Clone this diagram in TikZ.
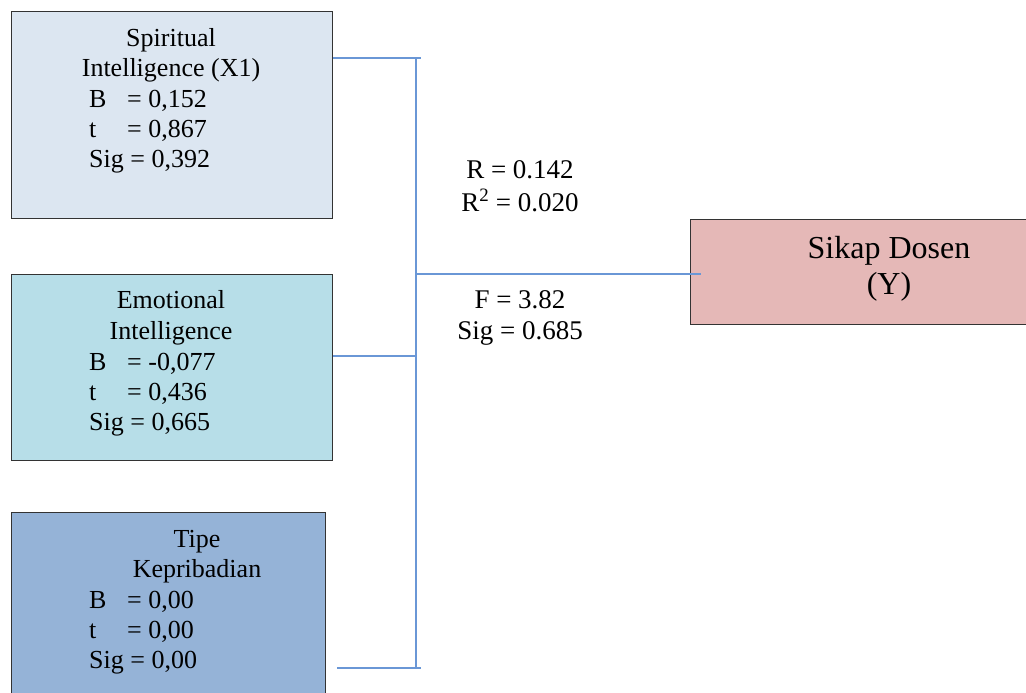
\documentclass[tikz,border=0pt]{standalone}
\usepackage{fontspec}
\setmainfont{Liberation Serif}
\begin{document}
\begin{tikzpicture}[x=1pt,y=-1pt,
  box/.style={draw=black!80,line width=1.3pt,anchor=north west,inner sep=0pt},
  txt/.style={inner sep=0pt,font=\fontsize{26}{30}\selectfont},
  lt/.style={txt,anchor=base west},
  ct/.style={txt,anchor=base},
  conn/.style={draw=blue!40!cyan!30!blue!70!white,color={rgb,255:red,106;green,151;blue,214},line width=1.4pt}
]
\useasboundingbox (0,0) rectangle (1026,693);
\clip (0,0) rectangle (1026,693);
% boxes
\node[box,fill={rgb,255:red,220;green,230;blue,241},minimum width=321pt,minimum height=207pt] (b1) at (11,11) {};
\node[box,fill={rgb,255:red,183;green,222;blue,232},minimum width=321pt,minimum height=186pt] (b2) at (11,274) {};
\node[box,fill={rgb,255:red,149;green,179;blue,215},minimum width=314pt,minimum height=200pt] (b3) at (11,512) {};
\node[box,fill={rgb,255:red,229;green,184;blue,183},minimum width=360pt,minimum height=105pt] (y) at (690,219) {};
% box 1 text
\node[ct] (b1a) at (171,47) {Spiritual};
\node[ct] (b1b) at (171,77) {Intelligence (X1)};
\node[lt] (b1c) at (89,107) {B};
\node[lt] (b1d) at (127,107) {= 0,152};
\node[lt] (b1e) at (89,137) {t};
\node[lt] (b1f) at (127,137) {= 0,867};
\node[lt] (b1g) at (89,167) {Sig = 0,392};
% box 2 text
\node[ct] (b2a) at (171,308) {Emotional};
\node[ct] (b2b) at (171,339) {Intelligence};
\node[lt] (b2c) at (89,370) {B};
\node[lt] (b2d) at (127,370) {= -0,077};
\node[lt] (b2e) at (89,400) {t};
\node[lt] (b2f) at (127,400) {= 0,436};
\node[lt] (b2g) at (89,430) {Sig = 0,665};
% box 3 text
\node[ct] (b3a) at (197,547) {Tipe};
\node[ct] (b3b) at (197,577) {Kepribadian};
\node[lt] (b3c) at (89,608) {B};
\node[lt] (b3d) at (127,608) {= 0,00};
\node[lt] (b3e) at (89,638) {t};
\node[lt] (b3f) at (127,638) {= 0,00};
\node[lt] (b3g) at (89,668) {Sig = 0,00};
% Y text
\node[inner sep=0pt,anchor=base,font=\fontsize{32}{36}\selectfont] (ya) at (889,258) {Sikap Dosen};
\node[inner sep=0pt,anchor=base,font=\fontsize{32}{36}\selectfont] (yb) at (889,294) {(Y)};
% statistics
\node[ct,font=\fontsize{27}{30}\selectfont] (r1) at (520,178) {R = 0.142};
\node[ct,font=\fontsize{27}{30}\selectfont] (r2) at (520,211) {R\textsuperscript{2} = 0.020};
\node[ct,font=\fontsize{27}{30}\selectfont] (f1) at (520,308) {F = 3.82};
\node[ct,font=\fontsize{27}{30}\selectfont] (f2) at (520,339) {Sig = 0.685};
% connector coordinates
\coordinate (j1) at (416,58);
\coordinate (j1e) at (421,58);
\coordinate (j2) at (416,356);
\coordinate (jm) at (416,274);
\coordinate (ye) at (701,274);
\coordinate (j3) at (416,668);
\coordinate (j3e) at (421,668);
\coordinate (b3s) at (337,668);
% connectors
\draw[conn] (b1.east |- j1) -- (j1e);
\draw[conn] (j1) -- (j3);
\draw[conn] (b2.east |- j2) -- (j2);
\draw[conn] (jm) -- (ye);
\draw[conn] (b3s) -- (j3e);
\end{tikzpicture}
\end{document}
